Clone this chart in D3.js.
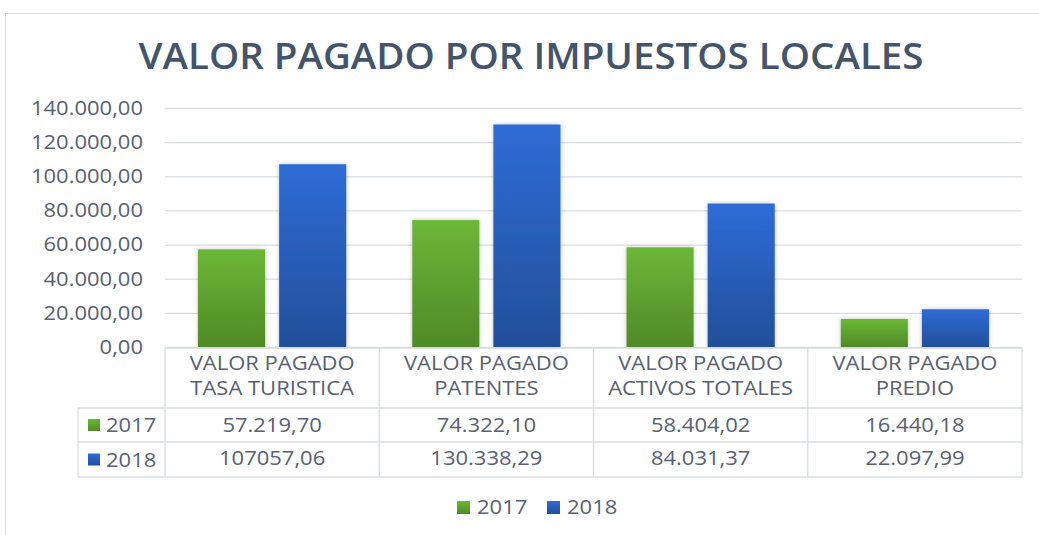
<!DOCTYPE html>
<html>
<head>
<meta charset="utf-8">
<script src="https://cdn.jsdelivr.net/npm/d3@7/dist/d3.min.js"></script>
<style>
  body { margin: 0; background: #fff; }
  text { font-family: "Open Sans", sans-serif; }
</style>
</head>
<body>
<div id="chart"></div>
<script>
// data
const categories = [
    ["VALOR PAGADO", "TASA TURISTICA"],
    ["VALOR PAGADO", "PATENTES"],
    ["VALOR PAGADO", "ACTIVOS TOTALES"],
    ["VALOR PAGADO", "PREDIO"]
];
const years = ["2017", "2018"];
const values2017 = [57219.70, 74322.10, 58404.02, 16440.18];
const values2018 = [107057.06, 130338.29, 84031.37, 22097.99];
const labels2017 = ["57.219,70", "74.322,10", "58.404,02", "16.440,18"];
const labels2018 = ["107057,06", "130.338,29", "84.031,37", "22.097,99"];
const yTicks = [0, 20000, 40000, 60000, 80000, 100000, 120000, 140000];

const W = 1039, H = 535;
const plot = { left: 165, right: 1022, top: 108, bottom: 347 };
const table = { left: 78, top: 348, row1: 408, row2: 442, bottom: 477 };
const textColor = "#586272";
const lineColor = "#D9DDE3";
const sx = 1.1; // source text is a bit wide

const colors = {
    "2017": ["#6CB837", "#4F8A26"],
    "2018": ["#2E6CD6", "#224F9A"]
};

const es = d3.formatLocale({ decimal: ",", thousands: ".", grouping: [3], currency: ["$", ""] });
const fmt = es.format(",.2f");

const svg = d3.select("#chart").append("svg")
    .attr("width", W)
    .attr("height", H);

const defs = svg.append("defs");
years.forEach(yr => {
    const lg = defs.append("linearGradient")
        .attr("id", "grad" + yr)
        .attr("x1", 0).attr("y1", 0).attr("x2", 0).attr("y2", 1);
    lg.append("stop").attr("offset", "0%").attr("stop-color", colors[yr][0]);
    lg.append("stop").attr("offset", "100%").attr("stop-color", colors[yr][1]);
});
defs.append("filter").attr("id", "shadow")
    .attr("x", "-20%").attr("y", "-20%").attr("width", "140%").attr("height", "140%")
    .append("feDropShadow")
    .attr("dx", 0).attr("dy", 0).attr("stdDeviation", 2)
    .attr("flood-color", "#000").attr("flood-opacity", 0.25);

// chart frame
svg.append("rect")
    .attr("x", 5.5).attr("y", 13.5)
    .attr("width", W + 20).attr("height", H + 20)
    .attr("fill", "none")
    .attr("stroke", "#D9D9D9");

function label(g, x, y, s, opts = {}) {
    return g.append("text")
        .attr("transform", `translate(${x},${y}) scale(${opts.sx || sx},1)`)
        .attr("text-anchor", opts.anchor || "middle")
        .attr("font-size", opts.size || 20)
        .attr("font-weight", opts.weight || 400)
        .attr("fill", opts.color || textColor)
        .text(s);
}

// title
label(svg, 531, 69, "VALOR PAGADO POR IMPUESTOS LOCALES", { size: 36, weight: 600, color: "#44546A", sx: 1.07 });

// scales
const x = d3.scaleBand()
    .domain(d3.range(categories.length))
    .range([plot.left, plot.right]);
const x1 = d3.scaleBand()
    .domain(years)
    .range([0, x.bandwidth()])
    .paddingInner(0.173)
    .paddingOuter(0.407);
const y = d3.scaleLinear()
    .domain([0, 140000])
    .range([plot.bottom, plot.top]);

// gridlines
const grid = svg.append("g")
    .attr("transform", `translate(${plot.left},0)`)
    .call(d3.axisLeft(y).tickValues(yTicks).tickSize(-(plot.right - plot.left)).tickFormat(""));
grid.select(".domain").remove();
grid.selectAll("line").attr("stroke", lineColor).attr("stroke-width", 1.3);

// y axis labels
const yAxis = svg.append("g")
    .attr("transform", "translate(143,0)")
    .call(d3.axisLeft(y).tickValues(yTicks).tickSize(0).tickPadding(0).tickFormat(fmt));
yAxis.select(".domain").remove();
yAxis.selectAll("text")
    .attr("font-size", 20)
    .attr("font-family", "Open Sans, sans-serif")
    .attr("fill", textColor)
    .attr("transform", `scale(${sx},1)`);

// bars
const series = { "2017": values2017, "2018": values2018 };
years.forEach(yr => {
    svg.append("g").selectAll("rect")
        .data(series[yr])
        .join("rect")
        .attr("x", (d, i) => x(i) + x1(yr))
        .attr("y", d => y(d))
        .attr("width", x1.bandwidth())
        .attr("height", d => y(0) - y(d))
        .attr("fill", `url(#grad${yr})`)
        .attr("filter", "url(#shadow)");
});

// data table
const tg = svg.append("g");
const hline = (x0, x1_, yy) => tg.append("line")
    .attr("x1", x0).attr("x2", x1_).attr("y1", yy).attr("y2", yy)
    .attr("stroke", lineColor).attr("stroke-width", 1.3);
const vline = (xx, y0, y1_) => tg.append("line")
    .attr("x1", xx).attr("x2", xx).attr("y1", y0).attr("y2", y1_)
    .attr("stroke", lineColor).attr("stroke-width", 1.3);

hline(plot.left, plot.right, table.top);
hline(table.left, plot.right, table.row1);
hline(table.left, plot.right, table.row2);
hline(table.left, plot.right, table.bottom);
vline(table.left, table.row1, table.bottom);
categories.forEach((c, i) => vline(x(i), table.top, table.bottom));
vline(plot.right, table.top, table.bottom);

categories.forEach((c, i) => {
    const cx = x(i) + x.bandwidth() / 2;
    label(tg, cx, 370, c[0]);
    label(tg, cx, 395, c[1]);
    label(tg, cx, 432, labels2017[i]);
    label(tg, cx, 465, labels2018[i]);
});

[[years[0], table.row1], [years[1], table.row2]].forEach(([yr, top]) => {
    const mid = (top + (yr === "2017" ? table.row2 : table.bottom)) / 2;
    tg.append("rect")
        .attr("x", 88).attr("y", mid - 6)
        .attr("width", 12).attr("height", 12)
        .attr("fill", `url(#grad${yr})`);
    label(tg, 106, mid + 7, yr, { anchor: "start" });
});

// legend
const legendX = [457, 547];
const lg = svg.append("g");
years.forEach((yr, i) => {
    lg.append("rect")
        .attr("x", legendX[i]).attr("y", 501)
        .attr("width", 13).attr("height", 13)
        .attr("fill", `url(#grad${yr})`);
    label(lg, legendX[i] + 20, 514, yr, { anchor: "start" });
});
</script>
</body>
</html>
